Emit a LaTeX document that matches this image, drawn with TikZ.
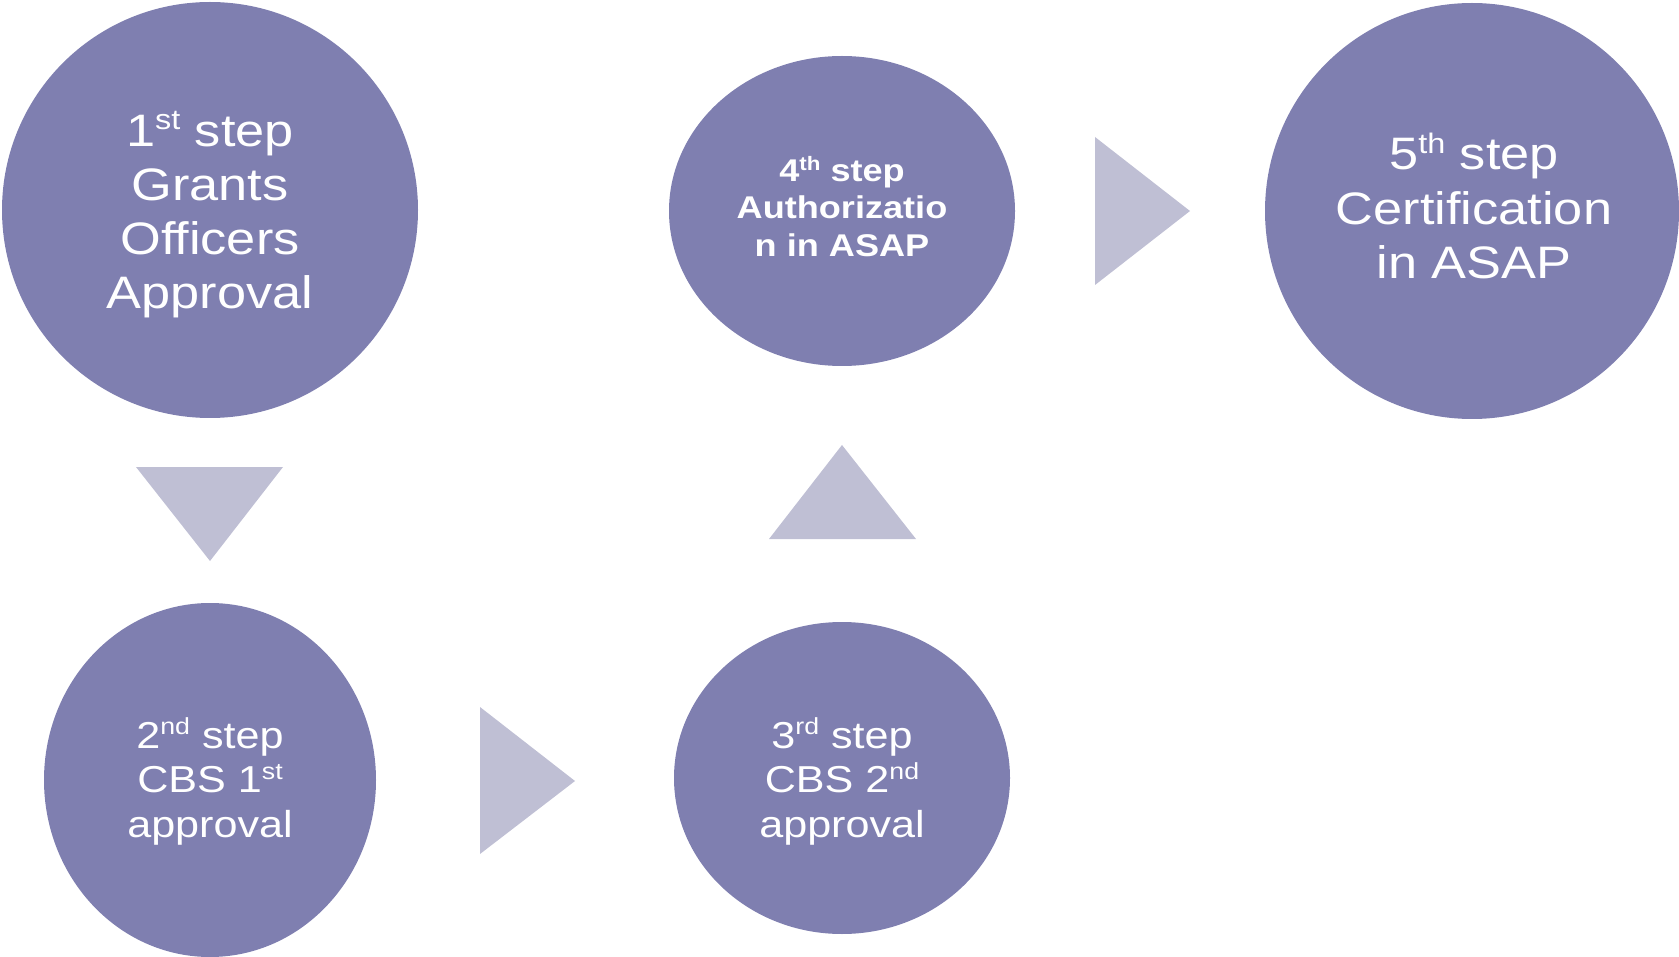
\documentclass[tikz,border=0pt]{standalone}
\usepackage{fontspec}
\usepackage{graphicx}
\setmainfont{Liberation Sans}
\usetikzlibrary{shapes.geometric}
\definecolor{stepfill}{HTML}{7F7FB0}
\definecolor{arrowfill}{HTML}{BFBFD4}
\newcommand\ordsup[1]{\raisebox{0.36em}{\scalebox{0.62}{#1}}}
\newcommand\stepbig[1]{\scalebox{1.15}[1]{\begin{tabular}{@{}c@{}}#1\end{tabular}}}
\begin{document}
\begin{tikzpicture}[x=1pt,y=-1pt,
  stepcircle/.style={ellipse, fill=stepfill, draw=none, inner sep=0pt},
  steptext/.style={text=white, inner sep=0pt},
  fontbig/.style={font=\fontsize{45.5}{54.3}\selectfont},
  fontmid/.style={font=\fontsize{37.5}{44.8}\selectfont},
  fontbold/.style={font=\fontsize{31.4}{37.5}\selectfont\bfseries},
  arrowtri/.style={fill=arrowfill, draw=none}]
\useasboundingbox (0,0) rectangle (1679,957);

% step ellipses
\node[stepcircle, minimum width=416pt, minimum height=416pt] (e1) at (210,210) {};
\node[stepcircle, minimum width=332pt, minimum height=354pt] (e2) at (210,780) {};
\node[stepcircle, minimum width=336pt, minimum height=312pt] (e3) at (842,778) {};
\node[stepcircle, minimum width=346pt, minimum height=310pt] (e4) at (842,211) {};
\node[stepcircle, minimum width=414pt, minimum height=416pt] (e5) at (1472,211) {};

% arrow triangles
\fill[arrowtri] (136,467) -- (283,467) -- (210,561) -- cycle;
\fill[arrowtri] (480,707) -- (480,854) -- (575,781) -- cycle;
\fill[arrowtri] (769,539) -- (916,539) -- (842,445) -- cycle;
\fill[arrowtri] (1095,137) -- (1095,285) -- (1190,211) -- cycle;

% texts
\node[steptext, fontbig] (t1) at (210,216.6) {\stepbig{1\ordsup{st} step\\Grants\\Officers\\Approval}};
\node[steptext, fontmid] (t2) at (210,784) {\stepbig{2\ordsup{nd} step\\CBS 1\ordsup{st}\\approval}};
\node[steptext, fontmid] (t3) at (842,784) {\stepbig{3\ordsup{rd} step\\CBS 2\ordsup{nd}\\approval}};
\node[steptext, fontbold] (t4) at (842,211.5) {\stepbig{4\ordsup{th} step\\Authorizatio\\n in ASAP}};
\node[steptext, fontbig] (t5) at (1474,213.4) {\stepbig{5\ordsup{th} step\\Certification\\in ASAP}};
\end{tikzpicture}
\end{document}
